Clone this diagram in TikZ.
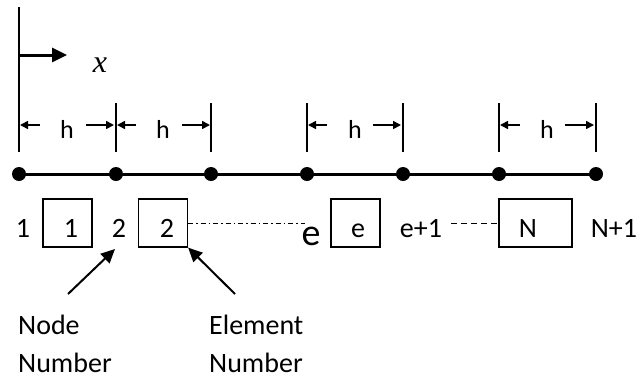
\documentclass[tikz,border=0pt]{standalone}
\usepackage{fontspec}
\setmainfont{Carlito}
\newfontfamily\timesf{Liberation Serif}
\usetikzlibrary{arrows.meta}
\tikzset{
  lbl/.style={inner sep=0pt, font=\fontsize{28}{34}\selectfont},
  hlbl/.style={inner sep=0pt, font=\fontsize{26}{30}\selectfont},
  dimline/.style={line width=1.4pt},
  dimarrow/.style={line width=1.6pt, -{Triangle[length=8pt,width=8pt]}},
  bar/.style={line width=3pt},
  dot/.style={circle, fill=black, minimum size=14pt, inner sep=0pt},
  elbox/.style={draw, line width=1.3pt, inner sep=0pt, minimum height=48pt},
  pointer/.style={line width=2pt, -{Triangle[length=14pt,width=13pt]}}
}
\begin{document}
\begin{tikzpicture}[x=1pt,y=-1pt]
\useasboundingbox (0,0) rectangle (639,381);
% origin line and x arrow
\coordinate (otop) at (19,7);
\coordinate (obot) at (19,152);
\draw[dimline] (otop) -- (obot);
\coordinate (xs) at (19,55);
\coordinate (xe) at (67,55);
\draw[line width=3pt, -{Triangle[length=15pt,width=14pt]}] (xs) -- (xe);
\node[inner sep=0pt, anchor=base, font=\timesf\itshape\fontsize{32}{36}\selectfont] (xl) at (100,72) {x};
% nodes
\foreach \i/\xx in {1/19,2/116,3/211,4/307,5/403,6/499,7/596}{
  \node[dot] (n\i) at (\xx,174) {};
}
\draw[bar] (n1.center) -- (n7.center);
% dimension verticals
\foreach \i/\xx in {2/116,3/211,4/307,5/403,6/499,7/596}{
  \coordinate (v\i t) at (\xx,103);
  \coordinate (v\i b) at (\xx,152);
  \draw[dimline] (v\i t) -- (v\i b);
}
% dimension arrows and h labels: left tip, left tail, h center, right tail, right tip
\foreach \k/\a/\b/\c/\d/\e in {1/20/40/67/86/114, 2/117/136/163/182/210, 3/308/327/355/373/401, 4/500/520/547/565/594}{
  \coordinate (la\k) at (\b,125);
  \coordinate (lt\k) at (\a,125);
  \coordinate (ra\k) at (\d,125);
  \coordinate (rt\k) at (\e,125);
  \draw[dimarrow] (la\k) -- (lt\k);
  \draw[dimarrow] (ra\k) -- (rt\k);
  \node[hlbl, anchor=base] (h\k) at (\c,138) {h};
}
% node numbers and element boxes
\node[lbl, anchor=base] (nn1) at (23,237) {1};
\node[elbox, minimum width=49pt] (b1) at (67.5,223) {};
\node[lbl, anchor=base] (bt1) at (71,237) {1};
\node[lbl, anchor=base] (nn2) at (119,237) {2};
\node[elbox, minimum width=49pt] (b2) at (163,223) {};
\node[lbl, anchor=base] (bt2) at (167,237) {2};
\node[inner sep=0pt, anchor=base, font=\fontsize{38}{42}\selectfont] (ne) at (311,245) {e};
\node[elbox, minimum width=49pt] (be) at (355.5,223) {};
\node[lbl, anchor=base] (bte) at (358,237) {e};
\node[lbl, anchor=base] (ne1) at (421,237) {e+1};
\node[elbox, minimum width=73pt] (bN) at (535.5,223) {};
\node[lbl, anchor=base] (btN) at (528,237) {N};
\node[lbl, anchor=base] (nN1) at (614,237) {N+1};
% continuation lines
\coordinate (dd) at (305,223);
\draw[line width=1pt, dash pattern=on 5pt off 3pt on 1.5pt off 3pt] (b2.east) -- (dd);
\coordinate (ds) at (451,223);
\draw[line width=1pt, dash pattern=on 6pt off 4pt] (ds) -- (bN.west);
% pointers
\coordinate (p1) at (68,294);
\coordinate (p1t) at (115,249);
\draw[pointer] (p1) -- (p1t);
\coordinate (p2) at (235,294);
\draw[pointer] (p2) -- (b2.south east);
\node[lbl, anchor=base west] (node1) at (18,334) {Node};
\node[lbl, anchor=base west] (node2) at (18,372) {Number};
\node[lbl, anchor=base west] (el1) at (209,334) {Element};
\node[lbl, anchor=base west] (el2) at (209,372) {Number};
\end{tikzpicture}
\end{document}
